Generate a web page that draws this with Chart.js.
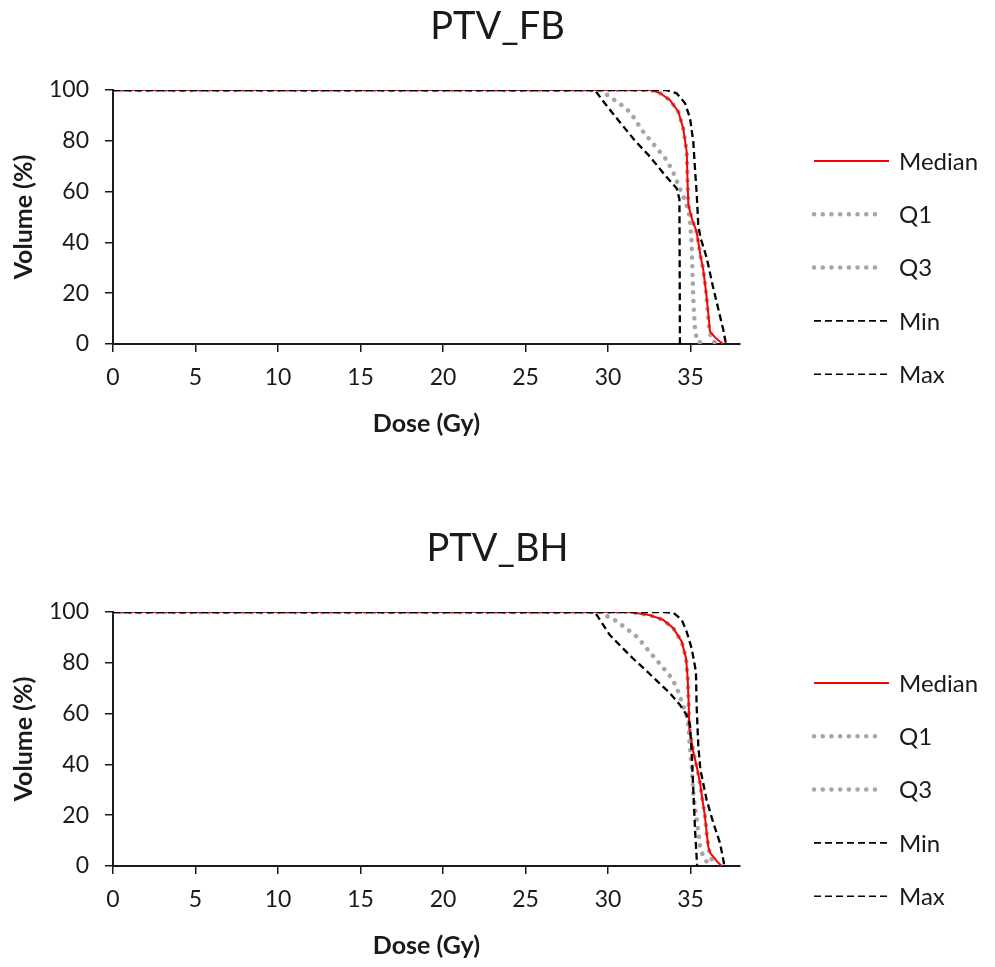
<!DOCTYPE html>
<html>
<head>
<meta charset="utf-8">
<script src="https://cdn.jsdelivr.net/npm/chart.js@4.4.1/dist/chart.umd.min.js"></script>
<style>
  html, body { margin: 0; padding: 0; background: #ffffff; }
  #wrap { position: relative; width: 995px; height: 967px; }
  .panel { position: absolute; left: 0; width: 995px; height: 445px; }
</style>
</head>
<body>
<div id="wrap">
  <div class="panel" style="top:0px"><canvas id="fbChart" width="995" height="445"></canvas></div>
  <div class="panel" style="top:522px"><canvas id="bhChart" width="995" height="445"></canvas></div>
</div>
<script>
// Axis ticks
const doseTicks = [0, 5, 10, 15, 20, 25, 30, 35];
const volumeTicks = [0, 20, 40, 60, 80, 100];
const seriesNames = ['Median', 'Q1', 'Q3', 'Min', 'Max'];

// PTV_FB dose-volume histograms (dose in Gy, volume in %)
const fbMedianDose = [0, 32.6, 33.15, 33.76, 34.26, 34.56, 34.77, 34.83, 34.87, 35.1, 35.37, 35.6, 35.78, 35.95, 36.08, 36.18, 36.5, 36.97];
const fbMedianVol  = [100, 100, 98.8, 96, 91.5, 84.9, 75.7, 62.6, 54.7, 49, 44.2, 35, 29, 20, 12, 5, 2.5, 0];
const fbQ1Dose = [0, 29.6, 29.8, 30.4, 31.1, 31.6, 32.04, 32.55, 33.05, 33.56, 33.96, 34.26, 34.6, 34.87, 34.97, 35.07, 35.17, 35.27, 35.4, 35.98];
const fbQ1Vol  = [100, 100, 98.7, 96, 92.8, 88.9, 84.3, 80.3, 76.4, 72.4, 67.6, 62.6, 57.5, 52.8, 48.2, 40, 17.6, 6, 1, 0];
const fbQ3Dose = [0, 32.6, 33.15, 33.76, 34.26, 34.56, 34.77, 34.83, 34.87, 35.1, 35.37, 35.6, 35.78, 35.95, 36.05, 36.15, 36.3, 36.6];
const fbQ3Vol  = [100, 100, 98.8, 96, 91.5, 84.9, 75.7, 62.6, 54.7, 49, 44.2, 35, 29, 20, 12, 5, 1.5, 0];
const fbMinDose = [0, 29.2, 29.8, 30.7, 31.6, 32.55, 33.45, 34.16, 34.33, 34.36];
const fbMinVol  = [100, 100, 94.8, 87.5, 80.3, 73.7, 66.5, 61.3, 57, 0];
const fbMaxDose = [0, 33.5, 34.16, 34.67, 34.97, 35.17, 35.27, 35.38, 35.47, 35.6, 35.98, 36.36, 36.99, 37.15];
const fbMaxVol  = [100, 100, 98.7, 94.8, 88.9, 79.6, 69.2, 58.7, 47, 42, 34, 22.6, 5.5, 0];

// PTV_BH dose-volume histograms (dose in Gy, volume in %)
const bhMedianDose = [0, 31.3, 32.5, 33.35, 33.96, 34.47, 34.73, 34.83, 34.89, 34.93, 35.17, 35.4, 35.58, 35.75, 35.88, 35.98, 36.08, 36.2, 36.38, 36.6, 36.89];
const bhMedianVol  = [100, 100, 98.8, 96.9, 93.6, 88.3, 81.8, 73.9, 63.4, 54.2, 45, 38.5, 32.6, 25, 19.4, 13, 7.6, 5, 3.7, 1.8, 0];
const bhQ1Dose = [0, 29.6, 29.8, 30.4, 31.1, 31.8, 32.3, 32.8, 33.35, 33.86, 34.2, 34.47, 34.73, 34.9, 34.93, 35.07, 35.17, 35.27, 35.38, 35.48, 35.58, 35.78, 35.98, 36.2];
const bhQ1Vol  = [100, 100, 98.8, 96.9, 93.6, 90, 86, 82.2, 78, 74, 69.7, 64.7, 60.1, 54.2, 49.6, 39, 28.6, 23.4, 18.2, 13, 7.6, 3.7, 1.7, 0];
const bhQ3Dose = [0, 31.3, 32.5, 33.35, 33.96, 34.47, 34.73, 34.83, 34.89, 34.93, 35.17, 35.4, 35.58, 35.75, 35.88, 35.98, 36.08, 36.25, 36.5];
const bhQ3Vol  = [100, 100, 98.8, 96.9, 93.6, 88.3, 81.8, 73.9, 63.4, 54.2, 45, 38.5, 32.6, 25, 19.4, 13, 7.6, 3, 0];
const bhMinDose = [0, 29.2, 29.7, 30.1, 30.7, 31.5, 32.3, 32.95, 33.76, 34.36, 34.77, 34.97, 35.07, 35.17, 35.27, 35.38, 35.4];
const bhMinVol  = [100, 100, 95, 91, 87, 81.8, 77, 73, 68, 63.4, 59.4, 55.5, 45, 30, 15, 2.4, 0];
const bhMaxDose = [0, 33.4, 33.96, 34.47, 34.77, 35.07, 35.33, 35.37, 35.47, 35.6, 35.98, 36.38, 36.79, 36.99, 37.05];
const bhMaxVol  = [100, 100, 99.7, 96.9, 92.2, 85.7, 76.5, 63.4, 47.6, 38, 26, 17, 9, 2.4, 0];

const FONT = 'Lato, "Open Sans", sans-serif';
const TEXT = '#1a1a1a';

function pts(xs, ys) {
  return xs.map((x, i) => ({ x: x, y: ys[i] }));
}

// line styles per series: solid red, grey dots, black dashes
const styles = {
  Median: { borderColor: '#ff0000', borderWidth: 2, borderDash: [], borderCapStyle: 'butt', order: 1 },
  Q1:     { borderColor: '#a6a6a6', borderWidth: 4.5, borderDash: [0.1, 8.6], borderCapStyle: 'round', order: 2 },
  Q3:     { borderColor: '#a6a6a6', borderWidth: 4.5, borderDash: [0.1, 8.6], borderCapStyle: 'round', order: 2 },
  Min:    { borderColor: '#000000', borderWidth: 2.3, borderDash: [7, 4], borderCapStyle: 'butt', order: 0 },
  Max:    { borderColor: '#000000', borderWidth: 2.3, borderDash: [7, 4], borderCapStyle: 'butt', order: 0 }
};

// Series legend, drawn inside the reserved right-hand axis box
const sideLegend = {
  id: 'sideLegend',
  afterDraw(chart) {
    const ctx = chart.ctx;
    const area = chart.chartArea;
    const x0 = area.right + 74, x1 = area.right + 149, textX = area.right + 159;
    const startY = area.top + 71, step = 53.3;
    chart.data.datasets.forEach((ds, i) => {
      const y = startY + i * step;
      ctx.save();
      ctx.strokeStyle = ds.borderColor;
      ctx.lineWidth = ds.label === 'Min' || ds.label === 'Max' ? 1.6 : ds.borderWidth;
      ctx.setLineDash(ds.borderDash || []);
      ctx.lineCap = ds.borderCapStyle;
      ctx.beginPath();
      ctx.moveTo(x0, y);
      ctx.lineTo(ds.borderCapStyle === 'round' ? x1 - 6 : x1, y);
      ctx.stroke();
      ctx.restore();
      ctx.save();
      ctx.fillStyle = TEXT;
      ctx.font = '24px ' + FONT;
      ctx.textAlign = 'left';
      ctx.textBaseline = 'middle';
      ctx.fillText(ds.label, textX, y + 1);
      ctx.restore();
    });
  }
};

function makeChart(canvasId, title, series) {
  const datasets = seriesNames.map((name, i) => Object.assign({
    label: name,
    data: pts(series[i][0], series[i][1]),
    pointRadius: 0,
    tension: 0,
    fill: false
  }, styles[name]));

  return new Chart(document.getElementById(canvasId), {
    type: 'line',
    data: { datasets: datasets },
    plugins: [sideLegend],
    options: {
      responsive: false,
      animation: false,
      devicePixelRatio: 1,
      layout: { padding: 0 },
      plugins: {
        legend: { display: false },
        tooltip: { enabled: false },
        title: {
          display: true,
          text: title,
          color: TEXT,
          font: { family: FONT, size: 38, weight: 'normal' },
          padding: { top: 4, bottom: 40.4 }
        }
      },
      scales: {
        x: {
          type: 'linear',
          min: 0,
          max: 38,
          afterBuildTicks: s => { s.ticks = doseTicks.map(v => ({ value: v })); },
          afterFit: s => { s.height = 101; },
          ticks: { color: TEXT, font: { family: FONT, size: 23 }, padding: 12, maxRotation: 0, includeBounds: false },
          grid: { drawOnChartArea: false, drawTicks: true, tickLength: 8, color: '#1a1a1a', lineWidth: 1.5 },
          border: { display: true, color: '#1a1a1a', width: 2 },
          title: { display: true, text: 'Dose (Gy)', color: TEXT, font: { family: FONT, size: 25, weight: 'bold' }, padding: { top: 0, bottom: 6 } }
        },
        y: {
          min: 0,
          max: 100,
          afterBuildTicks: s => { s.ticks = volumeTicks.map(v => ({ value: v })); },
          afterFit: s => { s.width = 113; },
          ticks: { color: TEXT, font: { family: FONT, size: 23 }, padding: 16 },
          grid: { drawOnChartArea: false, drawTicks: true, tickLength: 8, color: '#1a1a1a', lineWidth: 1.5 },
          border: { display: true, color: '#1a1a1a', width: 2 },
          title: { display: true, text: 'Volume (%)', color: TEXT, font: { family: FONT, size: 25, weight: 'bold' }, padding: { top: 9, bottom: 0 } }
        },
        // empty right-hand axis that holds the legend column
        legendSide: {
          position: 'right',
          min: 0,
          max: 100,
          afterFit: s => { s.width = 255; },
          ticks: { display: false },
          grid: { display: false, drawTicks: false },
          border: { display: false }
        }
      }
    }
  });
}

makeChart('fbChart', 'PTV_FB', [
  [fbMedianDose, fbMedianVol],
  [fbQ1Dose, fbQ1Vol],
  [fbQ3Dose, fbQ3Vol],
  [fbMinDose, fbMinVol],
  [fbMaxDose, fbMaxVol]
]);

makeChart('bhChart', 'PTV_BH', [
  [bhMedianDose, bhMedianVol],
  [bhQ1Dose, bhQ1Vol],
  [bhQ3Dose, bhQ3Vol],
  [bhMinDose, bhMinVol],
  [bhMaxDose, bhMaxVol]
]);
</script>
</body>
</html>
